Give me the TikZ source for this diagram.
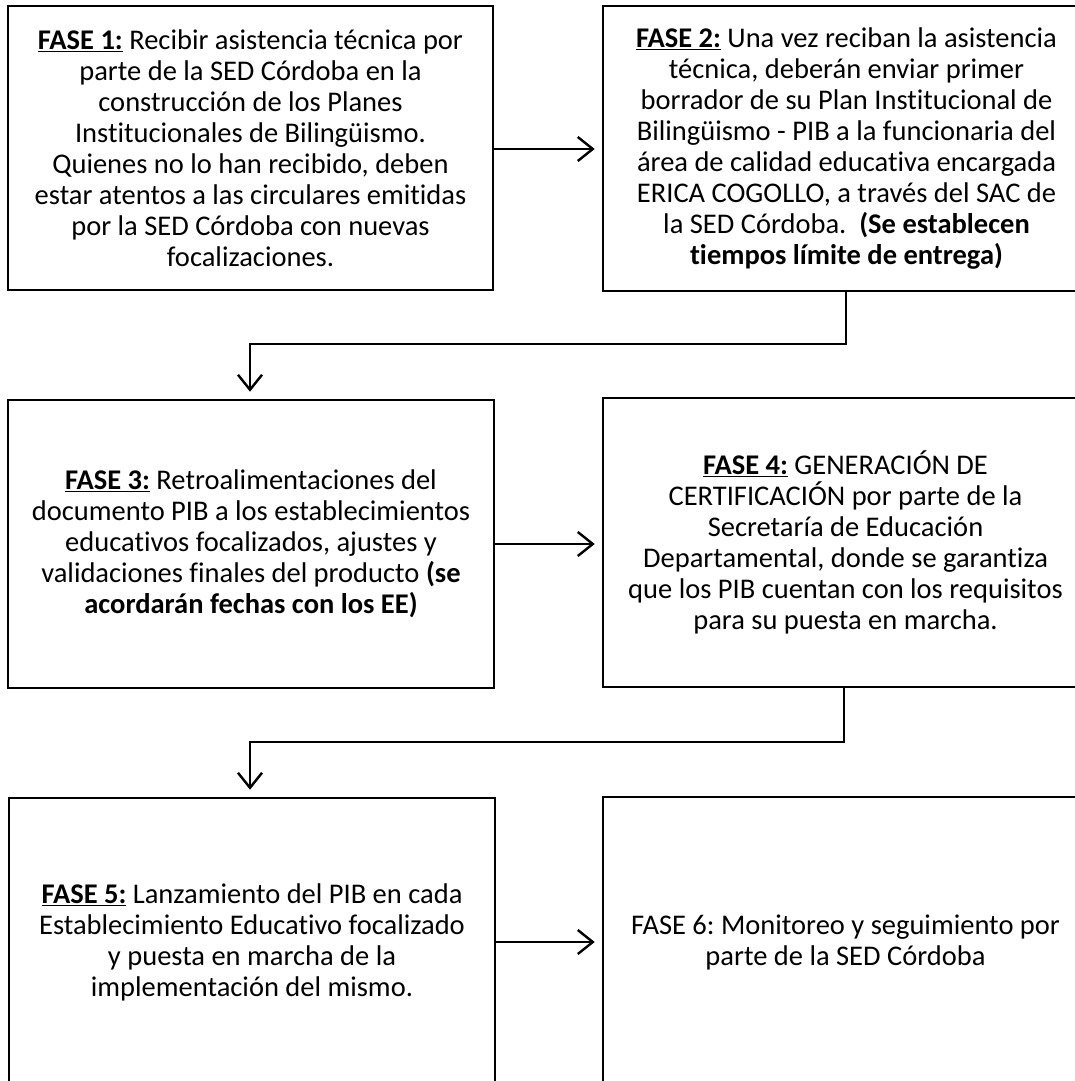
\documentclass[tikz,border=0pt]{standalone}
\usepackage{fontspec}
\setmainfont{Carlito}[Ligatures=NoCommon]
\usetikzlibrary{arrows.meta}
\frenchspacing
\tikzset{
  box/.style={draw=black, line width=2.6pt, rectangle, inner sep=0pt, align=center,
    font=\fontsize{28.5}{31}\selectfont, text=black},
  conn/.style={draw=black, line width=2.4pt, -{Straight Barb[length=15pt,width=24pt]}, shorten >=7pt},
}
\newcommand{\fase}[1]{\underline{\textbf{FASE #1:}}}
\begin{document}
\begin{tikzpicture}[x=1pt, y=-1pt]
\useasboundingbox (0,0) rectangle (1075,1081);
\fill[white] (0,0) rectangle (1075,1081);
\clip (0,0) rectangle (1075,1081);
\node[box, minimum width=485pt, minimum height=284pt] (b1) at (250.5,148) {%
\fase{1} Recibir asistencia técnica por\\
parte de la SED Córdoba en la\\
construcción de los Planes\\
Institucionales de Bilingüismo.\\
Quienes no lo han recibido, deben\\
estar atentos a las circulares emitidas\\
por la SED Córdoba con nuevas\\
focalizaciones.};
\node[box, minimum width=487pt, minimum height=285pt] (b2) at (846.5,148.5) {%
\fase{2} Una vez reciban la asistencia\\
técnica, deberán enviar primer\\
borrador de su Plan Institucional de\\
Bilingüismo - PIB a la funcionaria del\\
área de calidad educativa encargada\\
ERICA COGOLLO, a través del SAC de\\
la SED Córdoba.\ \ \textbf{(Se establecen}\\
\textbf{tiempos límite de entrega)}};
\node[box, minimum width=486pt, minimum height=288pt] (b3) at (251,544) {%
\fase{3} Retroalimentaciones del\\
documento PIB a los establecimientos\\
educativos focalizados, ajustes y\\
validaciones finales del producto \textbf{(se}\\
\textbf{acordarán fechas con los EE)}};
\node[box, minimum width=485pt, minimum height=289pt] (b4) at (845.5,542.5) {%
\fase{4} GENERACIÓN DE\\
CERTIFICACIÓN por parte de la\\
Secretaría de Educación\\
Departamental, donde se garantiza\\
que los PIB cuentan con los requisitos\\
para su puesta en marcha.};
\node[box, minimum width=486pt, minimum height=288pt] (b5) at (252,942) {%
\fase{5} Lanzamiento del PIB en cada\\
Establecimiento Educativo focalizado\\
y puesta en marcha de la\\
implementación del mismo.};
\node[box, minimum width=485pt, minimum height=290pt] (b6) at (845.5,942) {%
FASE 6: Monitoreo y seguimiento por\\
parte de la SED Córdoba};
\draw[conn] (b1.east |- 0,149) -- (b2.west |- 0,149);
\draw[conn] (b3.east) -- (b4.west |- b3.east);
\draw[conn] (b5.east) -- (b6.west |- b5.east);
\coordinate (k1) at (846,344);
\coordinate (k2) at (250,344);
\draw[conn] (b2.south -| k1) -- (k1) -- (k2) -- (k2 |- b3.north);
\coordinate (k3) at (844,742);
\coordinate (k4) at (250,742);
\draw[conn] (b4.south -| k3) -- (k3) -- (k4) -- (k4 |- b5.north);
\end{tikzpicture}
\end{document}
